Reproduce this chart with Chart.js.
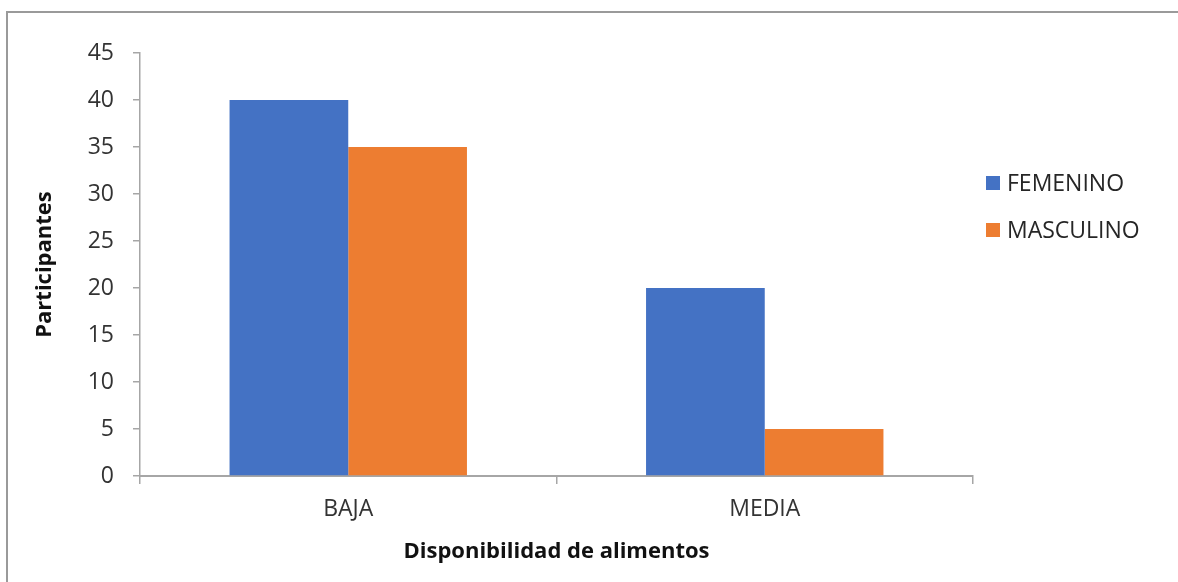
<!DOCTYPE html>
<html>
<head>
<meta charset="utf-8">
<script src="https://cdn.jsdelivr.net/npm/chart.js@4.4.1/dist/chart.umd.min.js"></script>
<style>
  html, body { margin: 0; padding: 0; background: #fff; overflow: hidden; }
  #frame { position: absolute; left: 6px; top: 11px; width: 1200px; height: 600px; border: 2px solid #9a9a9a; box-sizing: border-box; }
  #wrap { position: absolute; left: 0; top: 0; width: 1178px; height: 582px; }
</style>
</head>
<body>
<div id="frame"></div>
<div id="wrap"><canvas id="bar-chart"></canvas></div>
<script>
var categories = ['BAJA', 'MEDIA'];
var femenino = [40, 20];
var masculino = [35, 5];
var yTicks = [0, 5, 10, 15, 20, 25, 30, 35, 40, 45];

var FONT = "'Open Sans', sans-serif";

// legend drawn by hand so it sits where the original does
var sideLegend = {
  id: 'sideLegend',
  afterDraw: function(chart) {
    var ctx = chart.ctx;
    var rows = [183, 230];
    ctx.save();
    ctx.font = '23px ' + FONT;
    ctx.textBaseline = 'middle';
    chart.data.datasets.forEach(function(ds, i) {
      ctx.fillStyle = ds.backgroundColor;
      ctx.fillRect(986, rows[i] - 7, 14, 14);
      ctx.fillStyle = '#262626';
      ctx.fillText(ds.label, 1007, rows[i] + 1);
    });
    ctx.restore();
  }
};

new Chart(document.getElementById("bar-chart"), {
  type: 'bar',
  data: {
    labels: categories,
    datasets: [{
        label: "FEMENINO",
        data: femenino,
        backgroundColor: "#4472C4"
      }, {
        label: "MASCULINO",
        data: masculino,
        backgroundColor: "#ED7D31"
      }
    ]
  },
  plugins: [sideLegend],
  options: {
    responsive: true,
    maintainAspectRatio: false,
    animation: false,
    categoryPercentage: 0.57,
    barPercentage: 1.0,
    layout: { padding: { left: 0, right: 205, top: 53, bottom: 0 } },
    plugins: {
      legend: { display: false },
      tooltip: { enabled: false }
    },
    scales: {
      x: {
        afterFit: function(scale) { scale.height = 106; },
        grid: { offset: true, drawOnChartArea: false, drawTicks: true, tickLength: 8, color: '#a6a6a6', lineWidth: 1.5 },
        border: { color: '#a6a6a6', width: 2 },
        ticks: { color: '#333333', padding: 12, font: { family: FONT, size: 23 } },
        title: {
          display: true,
          text: 'Disponibilidad de alimentos',
          color: '#111111',
          padding: { top: 0, bottom: 17 },
          font: { family: FONT, size: 22, weight: 'bold' }
        }
      },
      y: {
        min: 0,
        max: 45,
        afterFit: function(scale) { scale.width = 140; },
        afterBuildTicks: function(scale) {
          scale.ticks = yTicks.map(function(v) { return { value: v }; });
        },
        grid: { drawOnChartArea: false, drawTicks: true, tickLength: 7, color: '#a6a6a6', lineWidth: 1.5 },
        border: { color: '#a6a6a6', width: 1.5 },
        ticks: { color: '#333333', padding: 19, font: { family: FONT, size: 23 } },
        title: {
          display: true,
          text: 'Participantes',
          color: '#111111',
          padding: { top: 32, bottom: 0 },
          font: { family: FONT, size: 22, weight: 'bold' }
        }
      }
    }
  }
});
</script>
</body>
</html>
